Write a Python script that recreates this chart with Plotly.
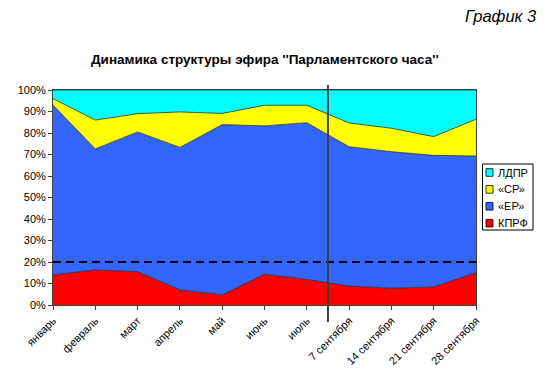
import plotly.graph_objects as go

categories = ["январь", "февраль", "март", "апрель", "май", "июнь", "июль",
              "7 сентября", "14 сентября", "21 сентября", "28 сентября"]
kprf = [14.0, 16.3, 15.5, 7.0, 4.7, 14.3, 11.9, 8.8, 7.8, 8.4, 15.0]
er = [79.0, 56.3, 65.0, 66.3, 79.2, 69.0, 72.9, 64.8, 63.5, 61.2, 54.3]
sr = [3.0, 13.4, 8.5, 16.5, 5.2, 9.6, 8.1, 11.1, 10.9, 8.7, 17.1]
ldpr = [4.0, 14.0, 11.0, 10.2, 10.9, 7.1, 7.1, 15.3, 17.8, 21.7, 13.6]
y_ticks = [0, 10, 20, 30, 40, 50, 60, 70, 80, 90, 100]
threshold = 20
divider_x = 6.5

series = [("КПРФ", kprf, "#FF0000"), ("«ЕР»", er, "#3366FF"),
          ("«СР»", sr, "#FFFF00"), ("ЛДПР", ldpr, "#00FFFF")]

# plot area in page pixels (page has an 8px body offset)
PL, PR, PT, PB = 53, 476, 90, 305
W, H = 550, 376
OFF = 8


def px(xp):
    return (xp - PL) / (PR - PL)


def py(yp):
    return (PB - yp) / (PB - PT)


x = list(range(len(categories)))
fig = go.Figure()
for name, vals, col in series:
    fig.add_trace(go.Scatter(x=x, y=vals, name=name, stackgroup="one", mode="lines",
                             line=dict(color="#1a1a1a", width=0.7), fillcolor=col,
                             showlegend=False, hoverinfo="x+y+name"))

shapes = []
shapes.append(dict(type="line", xref="x domain", yref="y domain", x0=0, x1=1,
                   y0=threshold / 100, y1=threshold / 100,
                   line=dict(color="#000000", width=1.8, dash="8px,5px")))
shapes.append(dict(type="line", xref="x domain", yref="y domain",
                   x0=divider_x / 10, x1=divider_x / 10, y0=py(322), y1=py(85),
                   line=dict(color="#404040", width=2)))

# manual legend (order as in reference: top to bottom)
annotations = []
shapes.append(dict(type="rect", xref="paper", yref="paper", x0=px(482.5), x1=px(533),
                   y0=py(230), y1=py(164), line=dict(color="#000", width=1),
                   fillcolor="white", layer="above"))
for i, (name, vals, col) in enumerate(reversed(series)):
    cy = 172.5 + i * 16.9
    shapes.append(dict(type="rect", xref="paper", yref="paper",
                       x0=px(486), x1=px(493), y0=py(cy + 3.8), y1=py(cy - 3.8),
                       line=dict(color="#000", width=0.8), fillcolor=col, layer="above"))
    annotations.append(dict(text=name, xref="paper", yref="paper", x=px(496), y=py(cy),
                            xanchor="left", yanchor="middle", showarrow=False,
                            font=dict(size=11)))

annotations.append(dict(text="<b>Динамика структуры эфира ''Парламентского часа''</b>",
                        xref="paper", yref="paper", x=0.5, y=py(60),
                        xanchor="center", yanchor="middle", showarrow=False,
                        font=dict(size=13.5)))
annotations.append(dict(text="<i>График 3</i>", xref="paper", yref="paper", x=px(539),
                        y=py(16), xanchor="right", yanchor="middle", showarrow=False,
                        font=dict(size=16.5)))

fig.update_layout(
    width=W - OFF, height=H - OFF,
    paper_bgcolor="white", plot_bgcolor="white",
    margin=dict(l=PL - OFF, r=W - PR, t=PT - OFF, b=H - PB, autoexpand=False),
    font=dict(family="Liberation Sans, Arial", size=11, color="#000"),
    showlegend=False,
    shapes=shapes,
    annotations=annotations,
)
fig.update_xaxes(range=[0, 10], tickvals=x, ticktext=categories, tickangle=-45,
                 ticks="outside", ticklen=4, tickcolor="#404040", automargin=False,
                 showline=True, linecolor="#404040", mirror=True, showgrid=False,
                 zeroline=False, tickfont=dict(size=11))
fig.update_yaxes(range=[0, 100], tickvals=y_ticks, ticktext=[f"{v}%" for v in y_ticks],
                 ticks="outside", ticklen=4, tickcolor="#404040", automargin=False,
                 showline=True, linecolor="#404040", mirror=True, showgrid=False,
                 zeroline=False, tickfont=dict(size=11))

fig.write_html("out.html")
